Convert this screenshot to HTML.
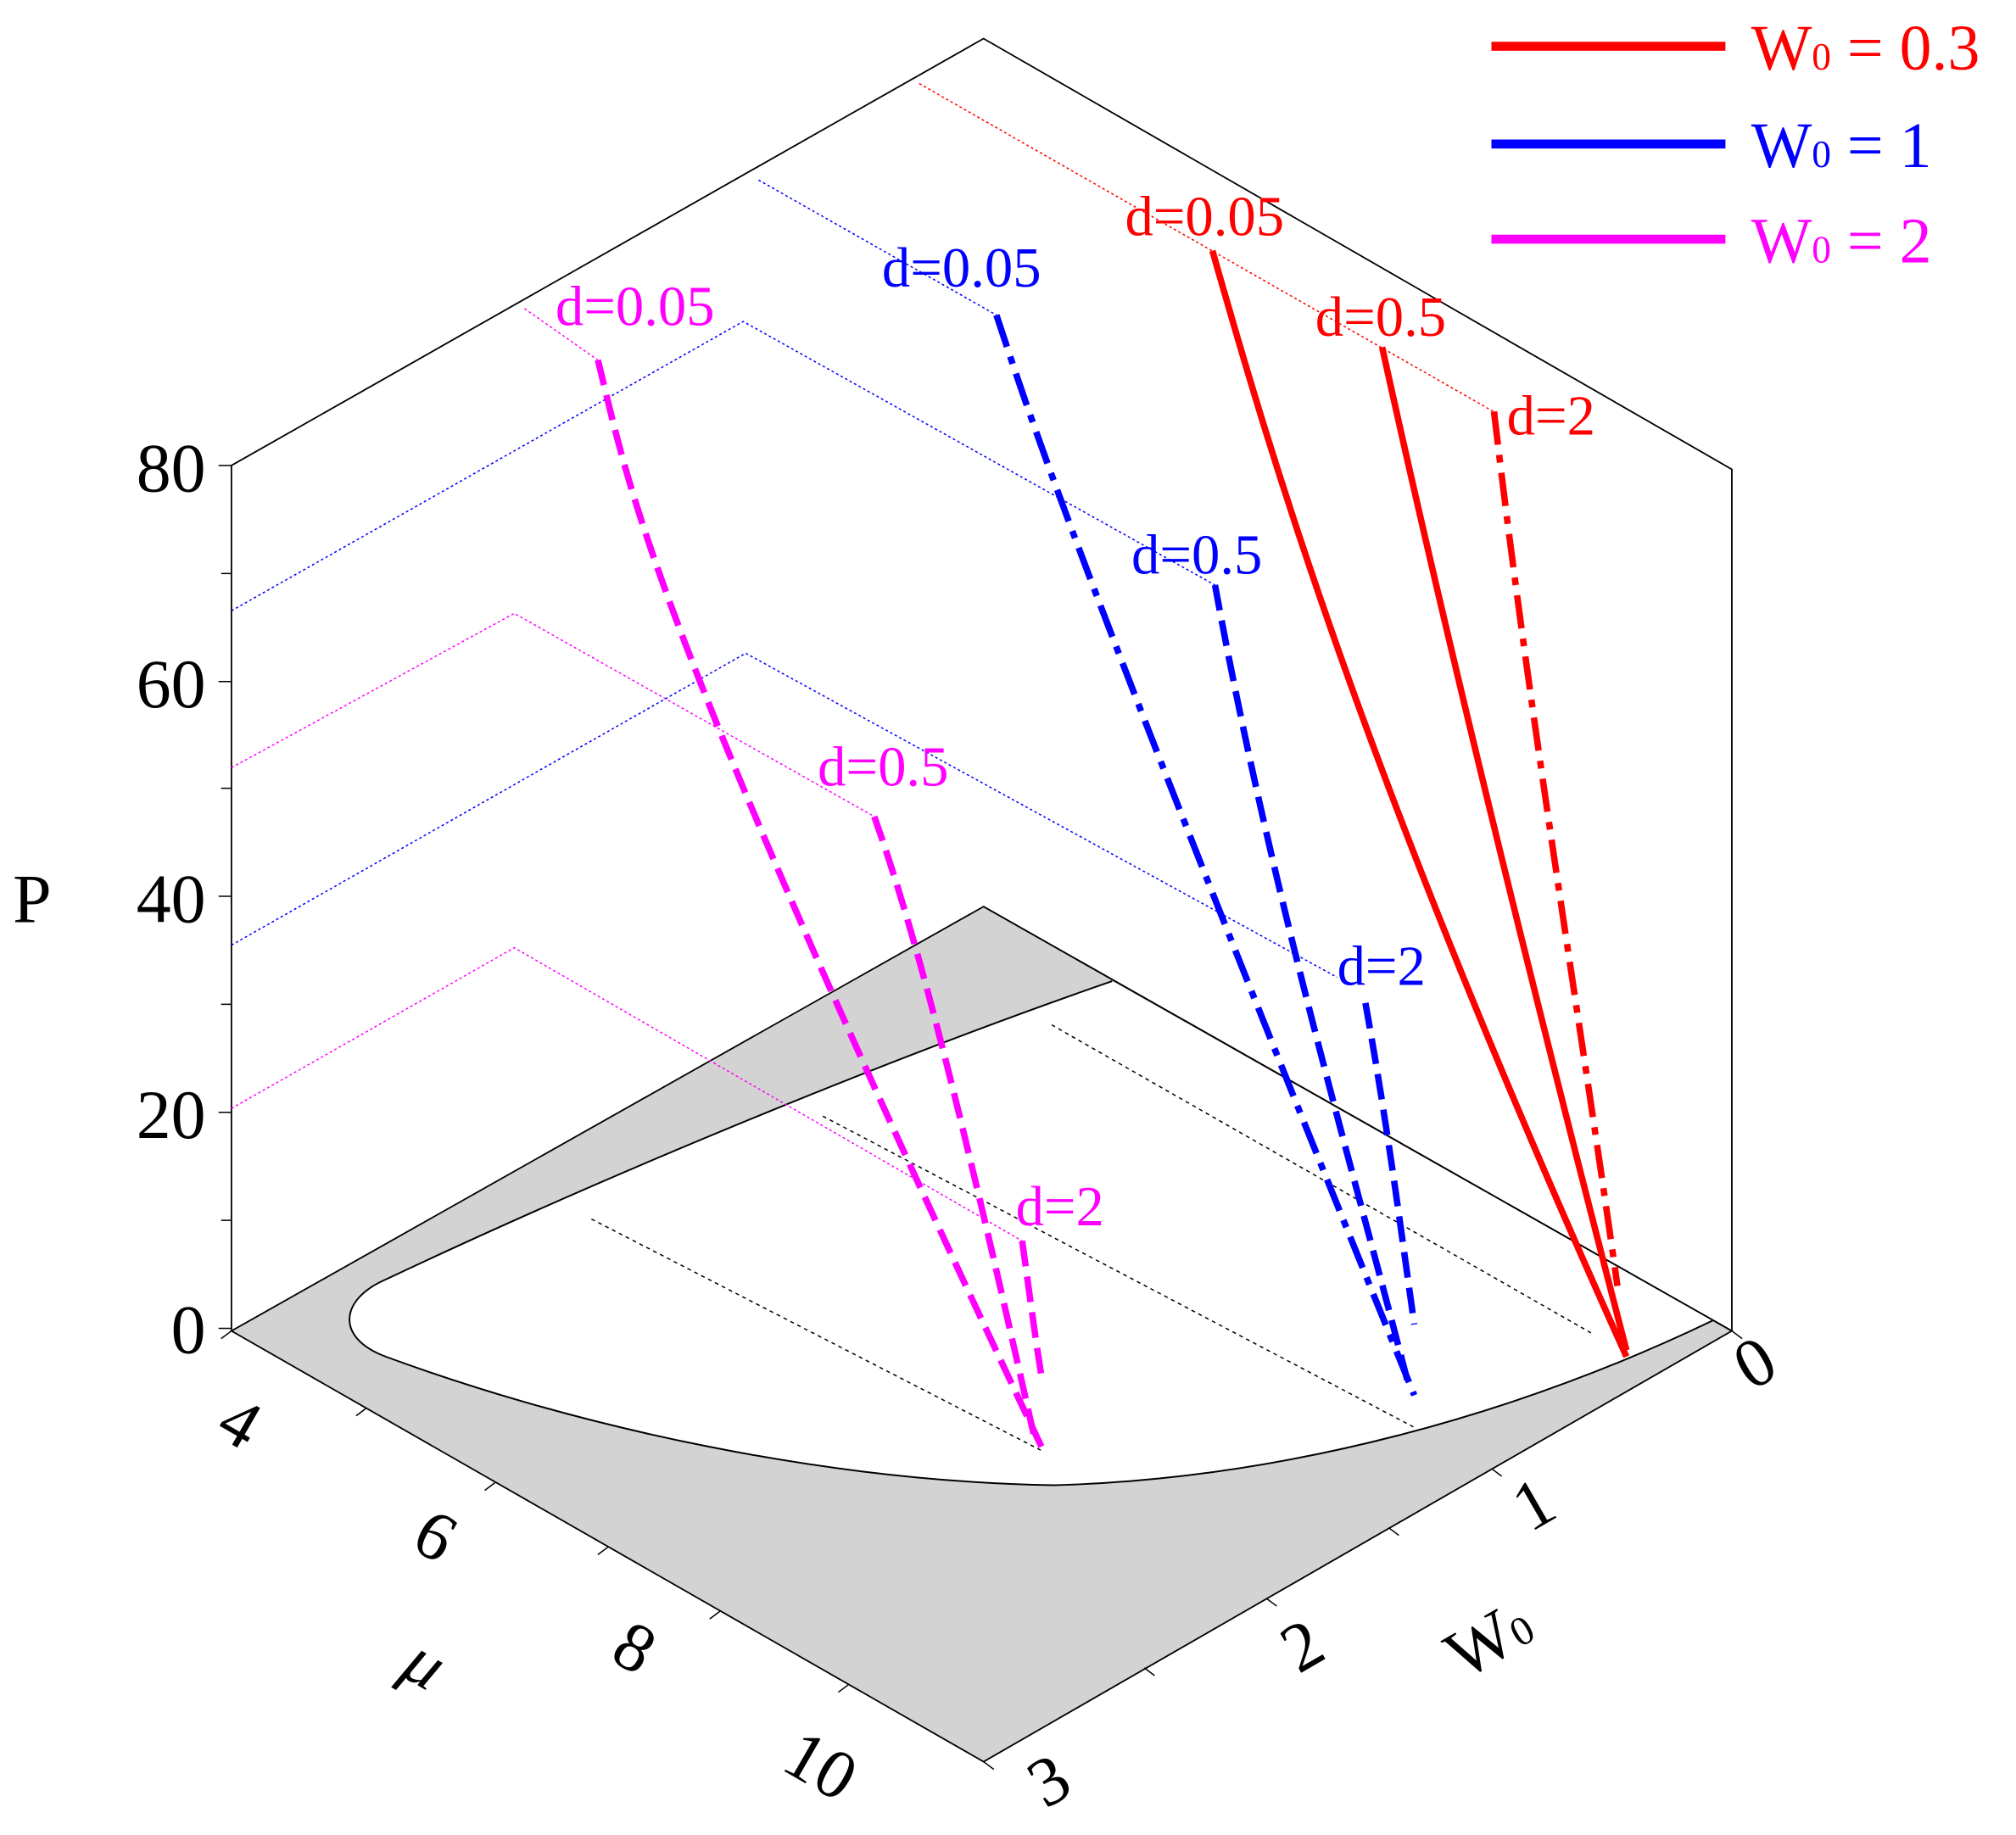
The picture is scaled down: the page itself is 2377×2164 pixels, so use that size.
<!DOCTYPE html>
<html><head><meta charset="utf-8"><style>html,body{margin:0;padding:0;background:#fff}svg{display:block}</style></head>
<body>
<svg width="2377" height="2164" viewBox="0 0 1568 1427" preserveAspectRatio="none" xmlns="http://www.w3.org/2000/svg" font-family="Liberation Serif, serif">
<rect width="1568" height="1427" fill="#fff"/>
<polygon points="180,1035 765,705 1347,1035 765,1370" fill="#d3d3d3" stroke="#000" stroke-width="1.2"/>
<path d="M865,763 L1332,1027 C1180,1100 1000,1150 820,1155 C640,1152 450,1110 300,1055 C260,1040 265,1010 300,995 C480,910 700,820 865,763 Z" fill="#fff" stroke="none"/>
<path d="M1332,1027 C1180,1100 1000,1150 820,1155 C640,1152 450,1110 300,1055 C260,1040 265,1010 300,995 C480,910 700,820 865,763" fill="none" stroke="#000" stroke-width="1.3"/>
<line x1="765" y1="705" x2="1347" y2="1035" stroke="#000" stroke-width="1.2"/>
<g stroke="#000" stroke-width="1" stroke-dasharray="3,3" fill="none">
<line x1="818" y1="797" x2="1240" y2="1038"/>
<line x1="640" y1="868" x2="1100" y2="1110"/>
<line x1="460" y1="948" x2="810" y2="1128"/>
</g>
<g stroke="#000" stroke-width="1.2" fill="none">
<polyline points="180,1035 180,362 765,30 1347,365 1347,1035"/>
</g>
<g stroke="#000" stroke-width="1">
<line x1="170" y1="362" x2="180" y2="362"/><line x1="172" y1="446" x2="180" y2="446"/>
<line x1="170" y1="530" x2="180" y2="530"/><line x1="172" y1="613" x2="180" y2="613"/>
<line x1="170" y1="697" x2="180" y2="697"/><line x1="172" y1="781" x2="180" y2="781"/>
<line x1="170" y1="865" x2="180" y2="865"/><line x1="172" y1="949" x2="180" y2="949"/>
<line x1="170" y1="1033" x2="180" y2="1033"/>
<line x1="180" y1="1035" x2="172" y2="1041"/><line x1="285" y1="1095" x2="277" y2="1101"/>
<line x1="385" y1="1153" x2="377" y2="1159"/><line x1="473" y1="1203" x2="465" y2="1209"/>
<line x1="560" y1="1253" x2="552" y2="1259"/><line x1="660" y1="1310" x2="652" y2="1316"/>
<line x1="1347" y1="1035" x2="1355" y2="1041"/><line x1="1160" y1="1142" x2="1168" y2="1148"/>
<line x1="1080" y1="1188" x2="1088" y2="1194"/><line x1="985" y1="1243" x2="993" y2="1249"/>
<line x1="890" y1="1297" x2="898" y2="1303"/><line x1="765" y1="1370" x2="773" y2="1376"/>
</g>
<g font-size="54" fill="#000" text-anchor="end">
<text x="160" y="382">80</text><text x="160" y="550">60</text><text x="160" y="717">40</text>
<text x="160" y="885">20</text><text x="160" y="1052">0</text>
</g>
<text x="10" y="717" font-size="54">P</text>
<g font-size="54" fill="#000">
<text transform="translate(166,1115) rotate(30)">4</text>
<text transform="translate(318,1203) rotate(30)">6</text>
<text transform="translate(473,1290) rotate(30)">8</text>
<text transform="translate(606,1375) rotate(30)">10</text>
<text transform="translate(310,1302) rotate(30)" font-style="italic">μ</text>
<text transform="translate(1362,1082) rotate(-30)">0</text>
<text transform="translate(1190,1192) rotate(-30)">1</text>
<text transform="translate(1010,1302) rotate(-30)">2</text>
<text transform="translate(813,1407) rotate(-30)">3</text>
<text transform="translate(1138,1307) rotate(-30)">W<tspan font-size="32">0</tspan></text>
</g>
<g stroke-width="1" stroke-dasharray="2,2" fill="none">
<polyline stroke="#f0f" points="180,862 400,737 795,965"/>
<polyline stroke="#f0f" points="180,597 400,477 680,635"/>
<polyline stroke="#f0f" points="408,240 465,280"/>
<polyline stroke="#00f" points="180,735 580,508 1040,760"/>
<polyline stroke="#00f" points="180,475 578,250 945,455"/>
<polyline stroke="#00f" points="590,140 775,245"/>
<polyline stroke="#f00" points="715,65 1165,322"/>
</g>
<g fill="none" stroke-width="5">
<path stroke="#f00" d="M943,195 C990,360 1060,600 1265,1055"/>
<path stroke="#f00" d="M1075,270 C1130,520 1200,800 1265,1050"/>
<path stroke="#f00" stroke-dasharray="26,8,6,8" d="M1162,320 C1190,560 1230,800 1258,1000"/>
<path stroke="#00f" stroke-dasharray="26,8,6,8" d="M775,245 C800,320 830,420 1100,1085"/>
<path stroke="#00f" stroke-dasharray="20,8" d="M945,455 C990,700 1050,900 1095,1075"/>
<path stroke="#00f" stroke-dasharray="20,8" d="M1062,780 C1080,880 1090,960 1100,1030"/>
<path stroke="#f0f" stroke-dasharray="20,8" d="M465,280 C490,380 500,470 810,1125"/>
<path stroke="#f0f" stroke-dasharray="20,8" d="M680,635 C710,720 740,830 805,1120"/>
<path stroke="#f0f" stroke-dasharray="20,8" d="M795,965 C800,1000 805,1040 810,1070"/>
</g>
<g font-size="44">
<text x="432" y="253" fill="#f0f">d=0.05</text>
<text x="636" y="611" fill="#f0f">d=0.5</text>
<text x="790" y="953" fill="#f0f">d=2</text>
<text x="686" y="223" fill="#00f">d=0.05</text>
<text x="880" y="446" fill="#00f">d=0.5</text>
<text x="1040" y="766" fill="#00f">d=2</text>
<text x="875" y="183" fill="#f00">d=0.05</text>
<text x="1023" y="261" fill="#f00">d=0.5</text>
<text x="1172" y="338" fill="#f00">d=2</text>
</g>
<g stroke-width="7">
<line x1="1160" y1="36" x2="1342" y2="36" stroke="#f00"/>
<line x1="1160" y1="112" x2="1342" y2="112" stroke="#00f"/>
<line x1="1160" y1="186" x2="1342" y2="186" stroke="#f0f"/>
</g>
<g font-size="50">
<text x="1362" y="54" fill="#f00">W<tspan font-size="30">0</tspan> = 0.3</text>
<text x="1362" y="130" fill="#00f">W<tspan font-size="30">0</tspan> = 1</text>
<text x="1362" y="204" fill="#f0f">W<tspan font-size="30">0</tspan> = 2</text>
</g>
</svg>
</body></html>
